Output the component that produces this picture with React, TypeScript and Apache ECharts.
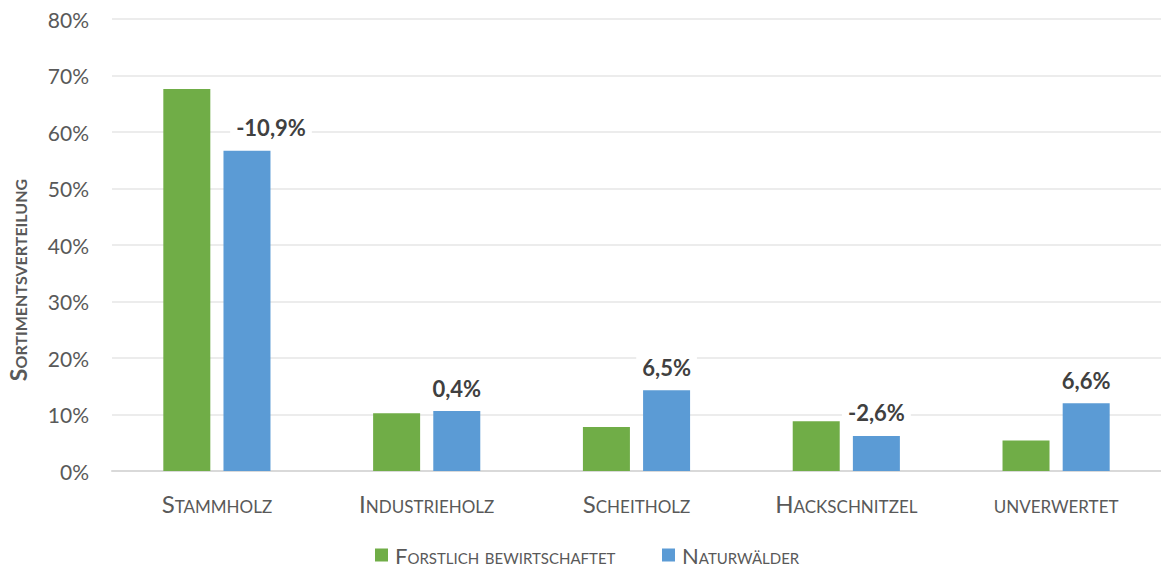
import React, { useEffect, useRef } from "react";
import * as echarts from "echarts";

const categories = ["Stammholz", "Industrieholz", "Scheitholz", "Hackschnitzel", "unverwertet"];
const forstlich = [67.6, 10.2, 7.8, 8.8, 5.4];
const natur = [56.7, 10.6, 14.3, 6.2, 12.0];
const diffLabels = ["-10,9%", "0,4%", "6,5%", "-2,6%", "6,6%"];
const seriesNames = ["Forstlich bewirtschaftet", "Naturwälder"];
const yAxisTitle = "Sortimentsverteilung";

const FONT = "Lato, 'Open Sans', sans-serif";
const SMALL_CAPS = new Set<string>([...categories, ...seriesNames, yAxisTitle]);

export default function App() {
  const ref = useRef<HTMLDivElement>(null);
  useEffect(() => {
    if (!ref.current) return;
    const chart = echarts.init(ref.current, null, { renderer: "svg" });
    const legendText = (w: number) => ({
      fontFamily: FONT,
      fontSize: 22,
      color: "#595959",
      width: w,
      overflow: "none",
      padding: [0, 0, 0, 2],
    });
    const option: any = {
      animation: false,
      backgroundColor: "#ffffff",
      textStyle: { fontFamily: FONT },
      grid: { left: 112, top: 19, width: 1053, height: 452, containLabel: false },
      legend: [
        {
          data: [seriesNames[0]],
          left: 375,
          top: 544,
          padding: 0,
          itemWidth: 13,
          itemHeight: 13,
          icon: "rect",
          textStyle: legendText(236),
        },
        {
          data: [seriesNames[1]],
          left: 662,
          top: 544,
          padding: 0,
          itemWidth: 13,
          itemHeight: 13,
          icon: "rect",
          textStyle: legendText(130),
        },
      ],
      xAxis: {
        type: "category",
        data: categories,
        axisLine: { lineStyle: { color: "#d9d9d9", width: 2 } },
        axisTick: { show: false },
        axisLabel: { fontFamily: FONT, fontSize: 24, color: "#595959", margin: 20 },
      },
      yAxis: {
        type: "value",
        min: 0,
        max: 80,
        interval: 10,
        axisLine: { show: false },
        axisTick: { show: false },
        splitLine: { lineStyle: { color: "#e6e6e6", width: 1.5 } },
        axisLabel: {
          fontFamily: FONT,
          fontSize: 21,
          color: "#595959",
          margin: 23,
          formatter: (v: number) => v + "%",
        },
      },
      graphic: [
        {
          type: "text",
          x: 18,
          y: 280,
          rotation: Math.PI / 2,
          style: {
            text: yAxisTitle,
            fontFamily: FONT,
            fontSize: 23,
            fontWeight: "bold",
            fill: "#595959",
            align: "center",
            verticalAlign: "middle",
          },
        },
      ],
      series: [
        {
          name: seriesNames[0],
          type: "bar",
          data: forstlich,
          barWidth: 47,
          barGap: "28%",
          itemStyle: { color: "#70ad47" },
        },
        {
          name: seriesNames[1],
          type: "bar",
          data: natur.map((v, i) => ({
            value: v,
            label: i === 0 ? { offset: [24, 0] } : undefined,
          })),
          barWidth: 47,
          itemStyle: { color: "#5b9bd5" },
          label: {
            show: true,
            position: "top",
            distance: 10,
            formatter: (p: any) => diffLabels[p.dataIndex],
            fontFamily: FONT,
            fontSize: 22,
            fontWeight: "bold",
            color: "#404040",
            backgroundColor: "#ffffff",
            padding: [2, 6],
          },
        },
      ],
    };
    chart.setOption(option);
    const applyCaps = () => {
      const el = ref.current;
      if (!el) return;
      el.querySelectorAll("text").forEach((t) => {
        const s = (t.textContent || "").trim();
        if (SMALL_CAPS.has(s)) {
          (t as any).style.setProperty("font-variant", "small-caps");
        }
      });
    };
    applyCaps();
    chart.on("finished", applyCaps);
    const timer = setTimeout(applyCaps, 50);
    return () => {
      clearTimeout(timer);
      chart.dispose();
    };
  }, []);
  return (
    <div
      ref={ref}
      style={{ position: "absolute", left: 0, top: 0, width: 1161, height: 567 }}
    />
  );
}
